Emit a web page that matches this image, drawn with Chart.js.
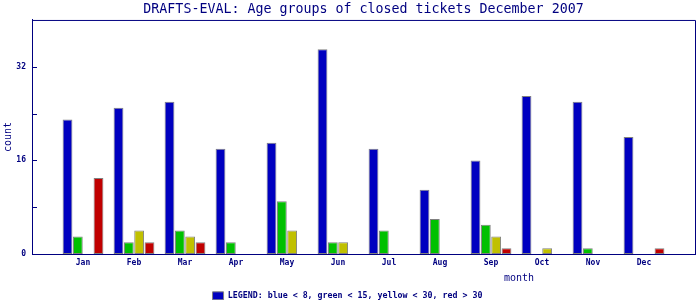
<!DOCTYPE html>
<html>
<head>
<meta charset="utf-8">
<script src="https://cdn.jsdelivr.net/npm/chart.js@4"></script>
<style>
  html, body { margin: 0; padding: 0; background: #fff; }
  #wrap { width: 700px; height: 300px; }
</style>
</head>
<body>
<div id="wrap"><canvas id="grafico"></canvas></div>
<script>
// datos
const meses = ['Jan', 'Feb', 'Mar', 'Apr', 'May', 'Jun', 'Jul', 'Aug', 'Sep', 'Oct', 'Nov', 'Dec'];
const azul = [23, 25, 26, 18, 19, 35, 18, 11, 16, 27, 26, 20];      // < 8
const verde = [3, 2, 4, 2, 9, 2, 4, 6, 5, 0, 1, 0];                 // < 15
const amarillo = [0, 4, 3, 0, 4, 2, 0, 0, 3, 1, 0, 0];              // < 30
const rojo = [13, 2, 2, 0, 0, 0, 0, 0, 1, 0, 0, 1];                 // > 30
const ticksY = [0, 8, 16, 24, 32, 40];
const etiquetasY = [0, 16, 32];

const NAVY = '#000080';
const MONO = '"DejaVu Sans Mono", "Liberation Mono", monospace';
const BASE_EJE = 254; // linea del eje x

// un hueco vacio al principio y al final del eje x
const etiquetas = ['', ...meses, ''];
const rellenar = arr => [null, ...arr.map(v => (v === 0 ? null : v)), null];

const serie = (label, data, color) => ({
  label: label,
  data: rellenar(data),
  backgroundColor: color,
  borderColor: '#808080',
  borderWidth: 1,
  borderSkipped: false,
  categoryPercentage: 0.81,
  barPercentage: 0.95
});

// marcas del eje y hacia dentro, caja del area y titulo "month"
const extras = {
  id: 'extras',
  afterDraw(chart) {
    const { ctx, chartArea: a, scales } = chart;
    ctx.save();
    ctx.strokeStyle = NAVY;
    ctx.lineWidth = 1;
    ctx.beginPath();
    ctx.moveTo(a.left + 0.5, a.top + 0.5);
    ctx.lineTo(a.right + 0.5, a.top + 0.5);
    ctx.lineTo(a.right + 0.5, a.bottom + 0.5);
    ticksY.forEach(v => {
      if (v === 0 || v === 40) return;
      const y = Math.round(scales.y.getPixelForValue(v)) + 0.5;
      ctx.moveTo(a.left, y);
      ctx.lineTo(a.left + 5, y);
    });
    ctx.stroke();
    ctx.fillStyle = NAVY;
    ctx.font = '10px ' + MONO;
    ctx.textAlign = 'center';
    ctx.textBaseline = 'middle';
    ctx.fillText('month', scales.x.getPixelForValue(9.55), 278);
    ctx.restore();
  }
};

const ctx = document.getElementById('grafico').getContext('2d');
new Chart(ctx, {
  type: 'bar',
  data: {
    labels: etiquetas,
    datasets: [
      serie('LEGEND: blue < 8, green < 15, yellow < 30, red > 30', azul, '#0000C0'),
      serie('green', verde, '#00C000'),
      serie('yellow', amarillo, '#C0C000'),
      serie('red', rojo, '#C00000')
    ]
  },
  options: {
    responsive: true,
    maintainAspectRatio: false,
    animation: false,
    layout: { padding: { left: 0, right: 5, top: 0, bottom: -10 } },
    plugins: {
      title: {
        display: true,
        fullSize: false,
        text: 'DRAFTS-EVAL: Age groups of closed tickets December 2007',
        color: NAVY,
        font: { family: MONO, size: 13.3, weight: 'normal' },
        padding: { top: 2, bottom: 2 }
      },
      legend: {
        position: 'bottom',
        labels: {
          filter: item => item.datasetIndex === 0,
          color: NAVY,
          boxWidth: 11,
          boxHeight: 8,
          padding: 1,
          font: { family: MONO, size: 8.3, weight: 'bold' }
        }
      },
      tooltip: { enabled: false }
    },
    scales: {
      x: {
        offset: false,
        grid: { display: false, drawTicks: false },
        border: { color: NAVY, width: 1 },
        ticks: {
          color: NAVY,
          autoSkip: false,
          maxRotation: 0,
          padding: 4,
          font: { family: MONO, size: 8, weight: 'bold' }
        },
        afterFit: scale => { scale.height = 310 - BASE_EJE - scale.chart.legend.height; }
      },
      y: {
        min: 0,
        max: 40,
        grid: { display: false, drawTicks: false },
        border: { color: NAVY, width: 1 },
        afterBuildTicks: scale => { scale.ticks = ticksY.map(v => ({ value: v })); },
        ticks: {
          color: NAVY,
          padding: 6,
          font: { family: MONO, size: 8, weight: 'bold' },
          callback: v => (etiquetasY.includes(v) ? v : '')
        },
        title: {
          display: true,
          text: 'count',
          color: NAVY,
          font: { family: MONO, size: 10 },
          padding: { top: 2, bottom: 4 }
        },
        afterFit: scale => { scale.width = 32; }
      }
    }
  },
  plugins: [extras]
});
</script>
</body>
</html>
